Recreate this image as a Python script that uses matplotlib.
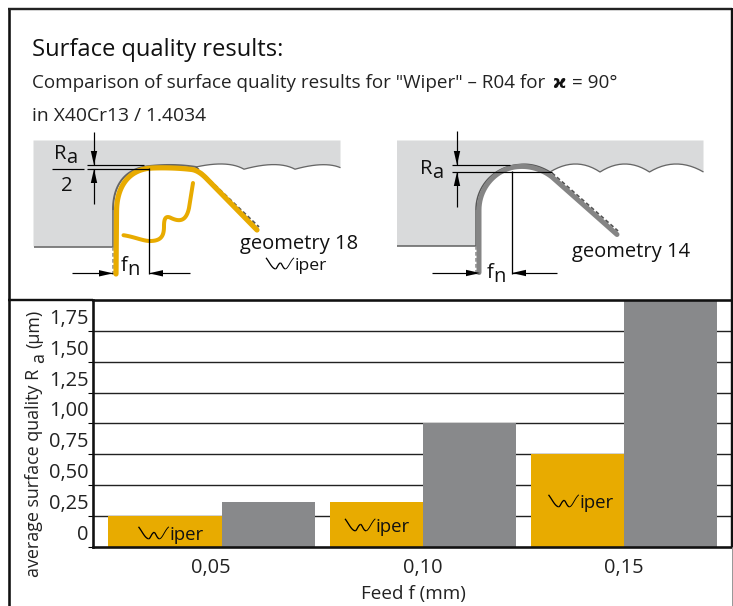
import numpy as np
import matplotlib
matplotlib.use("Agg")
import matplotlib.pyplot as plt
from matplotlib.patches import Polygon

# ---- data ----
feed_labels = ["0,05", "0,10", "0,15"]
ra_wiper = [0.25, 0.36, 0.75]
ra_standard = [0.36, 1.00, 2.00]
ytick_values = [0, 0.25, 0.50, 0.75, 1.00, 1.25, 1.50, 1.75]
ytick_labels = ["0", "0,25", "0,50", "0,75", "1,00", "1,25", "1,50", "1,75"]

plt.rcParams["font.family"] = ["Open Sans", "DejaVu Sans"]
PX = 0.72
YEL = "#E8AB00"
GRY = "#88898B"
LG = "#D9DADB"
TOOL = "#858585"
W, H = 733, 606
fig = plt.figure(figsize=(W / 100, H / 100), dpi=100, facecolor="white")

# overlay in pixel coordinates for the illustration
ov = fig.add_axes([0, 0, 1, 1], zorder=3)
ov.set_xlim(0, W); ov.set_ylim(H, 0); ov.axis("off"); ov.patch.set_alpha(0)

# ---- chart ----
L, R, T, B = 93.0, 731.0, 300.0, 546.7
ax = fig.add_axes([L / W, 1 - B / H, (R - L) / W, (B - T) / H], zorder=2)
pitch = 201.0
ax.set_xlim((L - 222) / pitch, (R - 222) / pitch)
ax.set_ylim(0, 2)
x = np.arange(len(feed_labels))
w = 93 / pitch
wiper_w = np.array([114 / pitch, w, w])
ax.bar(x - wiper_w, ra_wiper, width=wiper_w, align="edge", color=YEL, zorder=3, linewidth=0)
ax.bar(x, ra_standard, width=w, align="edge", color=GRY, zorder=3, linewidth=0)
ax.set_yticks(ytick_values)
ax.set_yticklabels([])
ax.set_xticks([])
ax.grid(False)
for v in ytick_values[1:]:
    ax.axhline(v, color="#222222", lw=1.4 * PX, zorder=1)
for s in ["top", "bottom", "left", "right"]:
    ax.spines[s].set_linewidth(2.6 * PX)
    ax.spines[s].set_color("#111111")
    ax.spines[s].set_zorder(5)
ax.spines["right"].set_visible(False)

FS_TICK = 14.4
for v, lab in zip(ytick_values, ytick_labels):
    py = B - v / 2 * (B - T) - 14.5
    ov.text(89, py, lab, ha="right", va="center_baseline", fontsize=FS_TICK, color="#222222")
for xi, lab, px in zip(x, feed_labels, [211, 423, 623.5]):
    ov.text(px, 565.5, lab, ha="center", va="center_baseline", fontsize=FS_TICK, color="#222222")
ov.text(413.5, 591.5, "Feed f (mm)", ha="center", va="center_baseline", fontsize=13.6, color="#222222")

yl = dict(rotation=90, rotation_mode="anchor", ha="left", va="baseline", color="#222222")
ov.text(39, 577, "average surface quality R", fontsize=12.9, **yl)
ov.text(44, 363, "a", fontsize=12.9, **yl)
ov.text(39, 348, "(µm)", fontsize=12.9, **yl)

# ---- frame ----
def line(xs, ys, lw=1.0, c="black", **k):
    ov.plot(xs, ys, color=c, lw=lw * PX, solid_capstyle=k.pop("cap", "butt"), **k)

line([8.5, 8.5], [8, 606], 2.6, "#111111")
line([7.5, 732], [8.5, 8.5], 2.4, "#222222")
line([731.5, 731.5], [8, 547], 2.4, "#111111")
line([732.3, 732.3], [547, 606], 1, "#999999")
line([8, 93], [299.6, 299.6], 2.4, "#111111")

# ---- texts ----
ov.text(32, 55.5, "Surface quality results:", fontsize=17.1, color="#111111", ha="left", va="baseline")
ov.text(32, 87.5, 'Comparison of surface quality results for "Wiper" – R04 for', fontsize=13.55,
        color="#222222", ha="left", va="baseline")
ov.text(552.5, 87.5, "ϰ", fontsize=13, family="DejaVu Sans", weight="bold", color="#111111", ha="left", va="baseline")
ov.text(572, 87.5, "= 90°", fontsize=13.55, color="#222222", ha="left", va="baseline")
ov.text(32, 120.8, "in X40Cr13 / 1.4034", fontsize=13.9, color="#222222", ha="left", va="baseline")

# ---- drawing helpers ----
def qb(p0, c, p1, n=14):
    t = np.linspace(0, 1, n)[:, None]
    p0, c, p1 = map(np.array, (p0, c, p1))
    return (1 - t) ** 2 * p0 + 2 * t * (1 - t) * c + t ** 2 * p1

def cb(p0, c0, c1, p1, n=24):
    t = np.linspace(0, 1, n)[:, None]
    p0, c0, c1, p1 = map(np.array, (p0, c0, c1, p1))
    return (1 - t) ** 3 * p0 + 3 * t * (1 - t) ** 2 * c0 + 3 * t ** 2 * (1 - t) * c1 + t ** 3 * p1

def arrow(x0, y0, x1, y1, head=14, hw=3.2):
    d = np.array([x1 - x0, y1 - y0], float)
    d /= np.hypot(*d)
    n = np.array([-d[1], d[0]])
    tip = np.array([x1, y1], float)
    base = tip - d * head
    line([x0, x1], [y0, y1], 1.2, "black")
    ov.add_patch(Polygon([tip, base + n * hw, base - n * hw], closed=True, fc="black", ec="none", zorder=6))

def wiper_logo(x0, y0, s=1.0, lw=1.3):
    a = cb((0, 0), (4, 5), (7, 12.5), (11, 13))
    b = cb((11, 13), (13, 13), (14, 7), (17, 6))
    c = cb((17, 6), (19, 7), (20, 13), (23, 13))
    d = cb((23, 13), (26, 12.5), (29, 3), (33, 0))
    for seg in (a, b, c):
        line(x0 + seg[:, 0] * s, y0 + seg[:, 1] * s, lw, "black")
    line(x0 + d[:, 0] * s, y0 + d[:, 1] * s, lw * 0.7, "black")

def wiper_label(x0, yc, s=0.92, fs=13.4):
    wiper_logo(x0, yc - 6.7, s)
    ov.text(x0 + 33 * s + 0.5, yc, "iper", fontsize=fs, color="#111111", ha="left", va="center_baseline")

wiper_label(138.5, 533.5)
wiper_label(345, 525.5)
wiper_label(548.5, 501.5)

# ---- left sketch ----
left_scallop = np.vstack([
    [[340.5, 167.7]],
    qb((340.5, 167.7), (325, 161), (295, 169.2)),
    qb((295, 169.2), (278, 160), (244, 169.2)),
    qb((244, 169.2), (228, 160), (196, 167)),
])
nose_l = np.vstack([
    cb((196, 167), (180, 164.5), (165, 164.5), (150, 166)),
    cb((150, 166), (125, 168), (113, 185), (113, 210)),
])
poly_l = np.vstack([left_scallop, nose_l, [[113, 246.5], [33.5, 246.5], [33.5, 140.5], [340.5, 140.5]]])
ov.add_patch(Polygon(poly_l, closed=True, fc=LG, ec="none", zorder=1))
line(left_scallop[:, 0], left_scallop[:, 1], 1.3, "#666666", zorder=2)
line(nose_l[:, 0], nose_l[:, 1], 2.0, "#666666", zorder=2)
line([33.5, 113, 113], [246.5, 246.5, 210], 1.6, "#666666", zorder=2)
line([113, 113], [247, 276], 1.5, "#888888", ls=(0, (2.5, 1.5)), zorder=2)
line([196, 259], [167, 227], 1.8, "#555555", ls=(0, (2.2, 1.4)), zorder=2)

nose_y = np.vstack([
    [[116, 274], [116.5, 212]],
    cb((116.5, 212), (116.5, 185), (130, 169), (152, 168)),
    cb((152, 168), (165, 167.5), (180, 168), (192, 169.5)),
    cb((192, 169.5), (198, 170.5), (203, 175), (206, 178)),
    [[257, 230]],
])
ov.plot(nose_y[:, 0], nose_y[:, 1], color=YEL, lw=5.2 * PX, solid_capstyle="round", solid_joinstyle="round", zorder=4)
chip = np.vstack([
    [[123.5, 235.2]],
    cb((123.5, 235.2), (135, 237), (143, 241), (150, 241)),
    cb((150, 241), (162, 241), (164, 235), (164, 226)),
    cb((164, 226), (164, 218), (166, 216), (170, 217.5)),
    cb((170, 217.5), (179, 222), (186, 222), (189, 208)),
    [[193, 183]],
])
ov.plot(chip[:, 0], chip[:, 1], color=YEL, lw=4.0 * PX, solid_capstyle="round", solid_joinstyle="round", zorder=4)

line([87, 144], [165.3, 165.3], 1.2, "black", zorder=5)
line([87, 149], [168.6, 168.6], 1.2, "black", zorder=5)
line([52, 84], [168.6, 168.6], 1.2, "black", zorder=5)
line([148.6, 148.6], [168, 273.5], 1.3, "black", zorder=5)
arrow(94, 132, 94, 165)
arrow(94, 204, 94, 169)
arrow(71.5, 273.3, 113, 273.3)
arrow(190, 273.3, 149, 273.3)

FS_D = 14.6
def Ra(xc, yb):
    ov.text(xc, yb, "R", fontsize=FS_D, color="#111111", ha="right", va="baseline")
    ov.text(xc, yb + 4, "a", fontsize=FS_D, color="#111111", ha="left", va="baseline")
def fn(xl, yb):
    ov.text(xl, yb, "f", fontsize=FS_D, color="#111111", ha="left", va="baseline")
    ov.text(xl + 7, yb + 4, "n", fontsize=FS_D, color="#111111", ha="left", va="baseline")
Ra(66, 159)
ov.text(67.3, 191, "2", fontsize=FS_D, color="#111111", ha="center", va="baseline")
fn(120.5, 271)
ov.text(299, 249.5, "geometry 18", fontsize=14.5, color="#111111", ha="center", va="baseline")
wiper_label(266, 264.5, s=0.85, fs=12.6)

# ---- right sketch ----
right_scallop = np.vstack([
    [[703.5, 172]],
    qb((703.5, 172), (676, 156), (649.5, 172)),
    qb((649.5, 172), (625, 156), (600, 172)),
    qb((600, 172), (576, 156), (550, 172)),
])
nose_r = np.vstack([
    cb((550, 172), (540, 166), (530, 163.5), (520, 164.5)),
    cb((520, 164.5), (495, 166), (476, 185), (476, 210)),
])
poly_r = np.vstack([right_scallop, nose_r, [[476, 246], [397, 246], [397, 140.5], [703.5, 140.5]]])
ov.add_patch(Polygon(poly_r, closed=True, fc=LG, ec="none", zorder=1))
line(right_scallop[:, 0], right_scallop[:, 1], 1.3, "#666666", zorder=2)
line(nose_r[:, 0], nose_r[:, 1], 1.6, "#555555", zorder=2)
line([397, 476, 476], [246, 246, 210], 1.6, "#666666", zorder=2)
line([476, 476], [246, 274], 1.5, "#888888", ls=(0, (2.5, 1.5)), zorder=2)
line([552, 618], [173, 231], 1.8, "#555555", ls=(0, (2.2, 1.4)), zorder=2)

tool_r = np.vstack([
    [[479, 272.5], [479, 210]],
    cb((479, 210), (479, 186), (498, 167), (520, 166.5)),
    cb((520, 166.5), (532, 166), (543, 170), (552, 177)),
    [[617, 234.5]],
])
ov.plot(tool_r[:, 0], tool_r[:, 1], color=TOOL, lw=5.0 * PX, solid_capstyle="round", solid_joinstyle="round", zorder=4)

line([452, 510], [165, 165], 1.2, "black", zorder=5)
line([452, 552], [171.8, 171.8], 1.2, "black", zorder=5)
line([511.8, 511.8], [171, 273.5], 1.3, "black", zorder=5)
arrow(457, 131, 457, 165)
arrow(457, 207, 457, 172)
arrow(432, 273, 480, 273)
arrow(557, 273, 512, 273)
Ra(432, 174.5)
fn(486.5, 278)
ov.text(631, 257, "geometry 14", fontsize=14.5, color="#111111", ha="center", va="baseline")

fig.savefig("out.png", dpi=100, facecolor="white")
